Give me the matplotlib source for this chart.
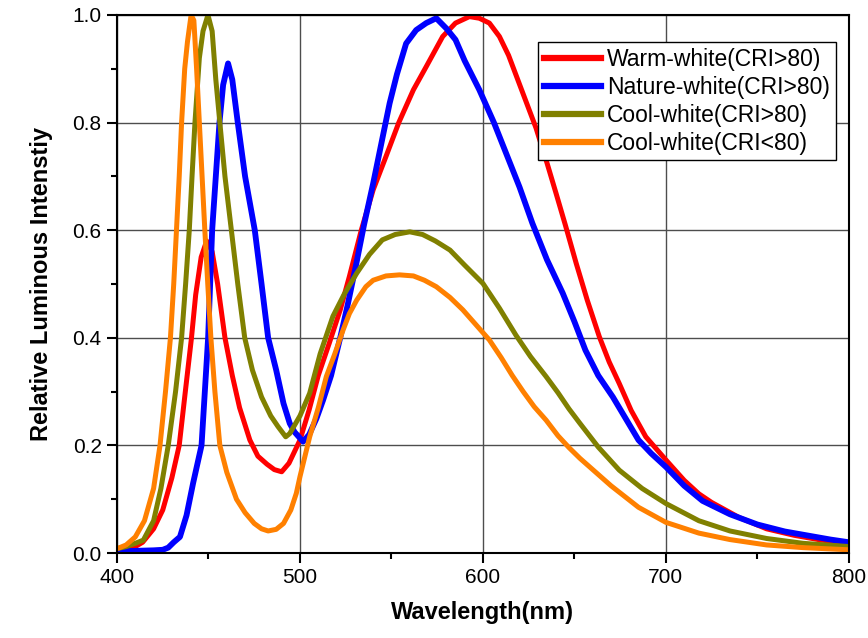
import matplotlib
matplotlib.use("Agg")
import matplotlib.pyplot as plt
from matplotlib.ticker import MultipleLocator

plt.rcParams['font.family'] = ['Liberation Sans', 'DejaVu Sans']

# Warm-white (CRI>80)
warm_x = [400, 405, 410, 414, 420, 425, 430, 434, 437, 440.7, 443, 446, 449, 452, 455,
          459, 463, 467, 472.6, 477, 482, 486, 490, 494, 500, 505, 510, 516, 522, 527,
          533.5, 540, 547, 554, 562, 569, 578, 585, 592.6, 598, 603.5, 609, 614, 619,
          624, 629, 635, 640, 645, 651, 657, 663.6, 669, 674.5, 681, 689, 700, 710, 718,
          725, 740, 755, 770, 785, 800]
warm_y = [0.005, 0.008, 0.012, 0.02, 0.045, 0.08, 0.14, 0.2, 0.29, 0.4, 0.48, 0.55, 0.58, 0.56, 0.5,
          0.4, 0.33, 0.27, 0.21, 0.18, 0.165, 0.155, 0.151, 0.167, 0.21, 0.266, 0.33, 0.39, 0.452, 0.514,
          0.6, 0.675, 0.737, 0.8, 0.861, 0.904, 0.96, 0.985, 0.997, 0.994, 0.985, 0.96, 0.925, 0.88,
          0.835, 0.79, 0.725, 0.668, 0.61, 0.538, 0.47, 0.402, 0.355, 0.315, 0.265, 0.216, 0.173, 0.135, 0.11,
          0.094, 0.066, 0.045, 0.033, 0.024, 0.018]

# Nature-white (CRI>80)
nature_x = [400, 410, 420, 425, 428, 431, 434.4, 438, 441.6, 446.2, 449.8, 452, 456, 458, 460.7,
            463, 466, 470, 475.3, 479, 482.6, 487, 491, 494.4, 497, 501.7, 505, 509, 512.6, 517,
            521.7, 526, 530.8, 535, 540, 545, 549, 553, 558, 563.5, 569, 574.5, 580, 585, 590,
            598, 606, 613, 620, 627, 635, 643.6, 650, 656, 663, 671, 678, 685, 692, 700,
            710, 720, 735, 750, 765, 780, 790, 800]
nature_y = [0.003, 0.004, 0.005, 0.006, 0.01, 0.02, 0.03, 0.07, 0.13, 0.2, 0.4, 0.6, 0.8, 0.87, 0.91,
            0.88, 0.8, 0.7, 0.6, 0.5, 0.4, 0.34, 0.278, 0.241, 0.225, 0.207, 0.22, 0.25, 0.284, 0.33,
            0.396, 0.46, 0.538, 0.61, 0.687, 0.77, 0.836, 0.89, 0.947, 0.972, 0.985, 0.994, 0.975, 0.954, 0.915,
            0.861, 0.8, 0.74, 0.68, 0.613, 0.545, 0.483, 0.43, 0.377, 0.33, 0.29, 0.25, 0.21, 0.185, 0.16,
            0.125, 0.097, 0.072, 0.053, 0.04, 0.031, 0.025, 0.02]

# Cool-white (CRI>80)
cool_hi_x = [400, 405, 410, 414.4, 420, 424, 428, 432, 435.3, 437.5, 439.5, 441, 442.6, 445, 447,
             449.7, 452, 454, 456.2, 459, 462.5, 466, 469.8, 474, 479, 484, 488, 492.2, 494.4, 500,
             505.3, 511, 518, 524, 531, 538, 545, 552, 560, 567, 574, 582, 590, 600, 609, 618,
             626, 634.5, 641, 647, 653, 663, 674.5, 687, 700, 718, 735, 755, 775, 800]
cool_hi_y = [0.008, 0.012, 0.018, 0.024, 0.06, 0.12, 0.2, 0.3, 0.4, 0.5, 0.6, 0.7, 0.8, 0.92, 0.97,
             1.0, 0.97, 0.88, 0.8, 0.7, 0.6, 0.5, 0.4, 0.34, 0.29, 0.255, 0.235, 0.216, 0.222, 0.255,
             0.297, 0.37, 0.44, 0.48, 0.52, 0.555, 0.582, 0.592, 0.597, 0.592, 0.58, 0.563, 0.535, 0.501, 0.455, 0.405,
             0.365, 0.328, 0.298, 0.268, 0.241, 0.197, 0.154, 0.12, 0.092, 0.06, 0.041, 0.027, 0.018, 0.012]

# Cool-white (CRI<80)
cool_lo_x = [400, 405, 410, 415, 420, 423.5, 426.5, 429.2, 431, 432.5, 434, 435.3, 437, 438.5, 440.5,
             442, 443.5, 445, 446.5, 448, 449.6, 451.3, 453.5, 456.2, 460, 465.3, 470, 475, 479, 482.6,
             487, 491, 495, 498, 500, 505.3, 510, 514.4, 519, 523.5, 527, 531, 536, 540, 547,
             554.4, 562, 568, 574.5, 582, 589, 596, 603.5, 610, 616, 622, 628, 634.5, 641, 647,
             653, 660, 670, 685, 700, 718, 735, 755, 775, 800]
cool_lo_y = [0.008, 0.015, 0.03, 0.06, 0.12, 0.2, 0.3, 0.4, 0.5, 0.6, 0.7, 0.8, 0.9, 0.95, 1.0,
             0.99, 0.9, 0.8, 0.7, 0.6, 0.5, 0.4, 0.3, 0.2, 0.15, 0.1, 0.075, 0.055, 0.045, 0.041,
             0.044, 0.055, 0.08, 0.111, 0.142, 0.216, 0.27, 0.328, 0.37, 0.414, 0.445, 0.47, 0.495, 0.507, 0.515,
             0.517, 0.515, 0.507, 0.495, 0.475, 0.452, 0.425, 0.396, 0.363, 0.33, 0.3, 0.272, 0.247, 0.218, 0.196,
             0.176, 0.155, 0.125, 0.085, 0.057, 0.037, 0.025, 0.015, 0.01, 0.006]

series = [
    (warm_x, warm_y, '#ff0000', 'Warm-white(CRI>80)', 3.6),
    (nature_x, nature_y, '#0000ff', 'Nature-white(CRI>80)', 4.2),
    (cool_hi_x, cool_hi_y, '#808000', 'Cool-white(CRI>80)', 3.6),
    (cool_lo_x, cool_lo_y, '#ff8000', 'Cool-white(CRI<80)', 3.6),
]

fig = plt.figure(figsize=(8.68, 6.38), dpi=100)
ax = fig.add_axes([0.1348, 0.1332, 0.8432, 0.8433])

for xs, ys, c, lab, w in series:
    ax.plot(xs, ys, color=c, lw=w, label=lab, solid_joinstyle='round')

ax.set_xlim(400, 800)
ax.set_ylim(0, 1.0)
ax.xaxis.set_major_locator(MultipleLocator(100))
ax.xaxis.set_minor_locator(MultipleLocator(50))
ax.yaxis.set_major_locator(MultipleLocator(0.2))
ax.yaxis.set_minor_locator(MultipleLocator(0.1))
ax.grid(True, which='major', color='0.3', lw=1)
ax.set_axisbelow(True)

for s in ax.spines.values():
    s.set_linewidth(1.5)
ax.tick_params(which='major', direction='out', length=7, width=1.5, labelsize=15, pad=4)
ax.tick_params(which='minor', direction='out', length=4, width=1.5)
ax.tick_params(top=False, right=False)

ax.set_xlabel('Wavelength(nm)', fontsize=17, fontweight='bold', labelpad=10)
ax.set_ylabel('Relative Luminous Intenstiy', fontsize=17, fontweight='bold', labelpad=14)

leg = ax.legend(loc='upper right', bbox_to_anchor=(0.982, 0.95), fontsize=16.5,
                handlelength=2.5, handletextpad=0.25, labelspacing=0.22,
                borderpad=0.25, borderaxespad=0, fancybox=False, framealpha=1)
leg.get_frame().set_edgecolor('black')
leg.get_frame().set_linewidth(1)
for ln in leg.get_lines():
    ln.set_linewidth(4.5)

fig.savefig('out.png', dpi=100)
